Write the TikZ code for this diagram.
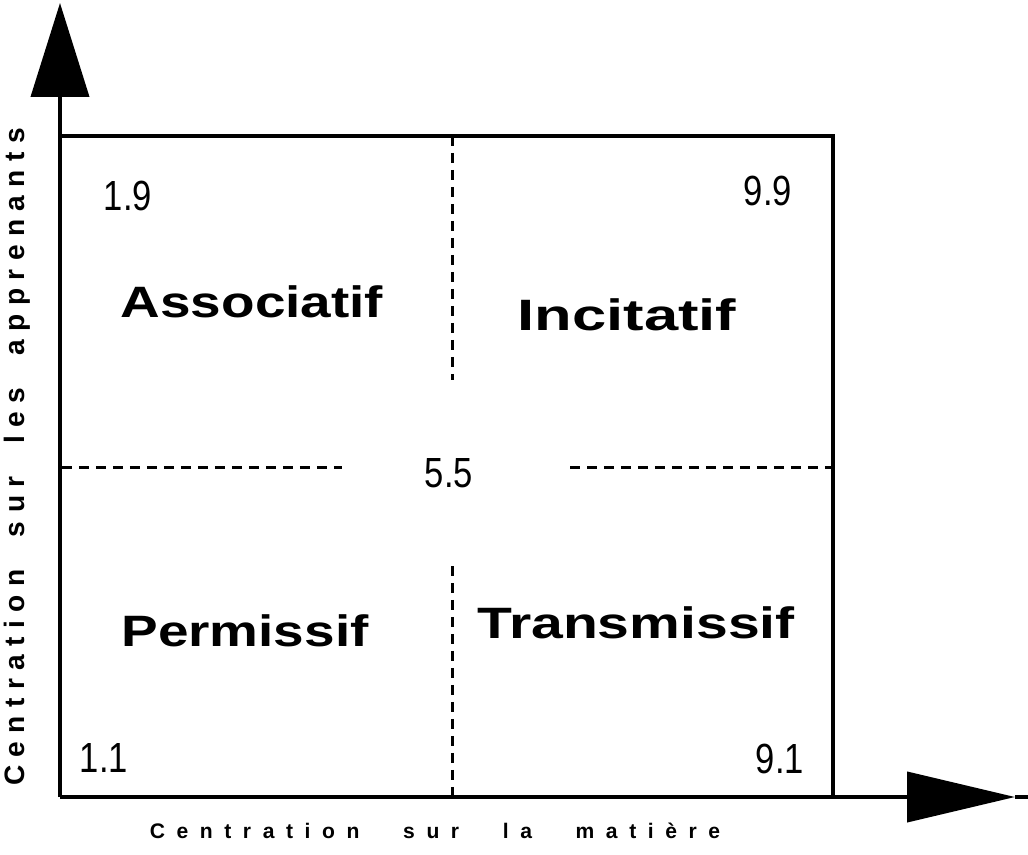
\documentclass[tikz,border=0pt]{standalone}
\usepackage{fontspec}
\setmainfont{Liberation Sans}
\newfontfamily\axisfont[LetterSpace=55,WordSpace=2.5]{Liberation Sans}
\newfontfamily\yaxisfont[LetterSpace=30,WordSpace=2]{Liberation Sans}
\usepackage{tikz}
\usetikzlibrary{arrows.meta}

\tikzset{
	axe/.style={line width=0.08cm},
	mid/.style={line width=0.06cm,dash pattern=on 0.2cm off 0.14cm},
	num/.style={anchor=base,xscale=.82,font=\fontsize{24}{28}\selectfont},
	quad/.style={anchor=base,xscale=1.25,font=\fontsize{25}{30}\selectfont\bfseries},
}

\begin{document}
\begin{tikzpicture}[x=0.02cm,y=-0.02cm]
			%	\draw[very thin,gray] (0,0) grid[step=50] (1028,855);
			\useasboundingbox (0,0) rectangle (1028,855);
			\coordinate (O) at (60,797);
			\coordinate (ytip) at (60,3);
			\coordinate (xtip) at (1015,797);
			\coordinate (xend) at (1028,797);
			\coordinate (TL) at (60,136);
			\coordinate (TR) at (833,136);
			\coordinate (BR) at (833,797);
			\coordinate (vtop) at (452,136);
			\coordinate (vtopend) at (452,380);
			\coordinate (vbot) at (452,566);
			\coordinate (vbotend) at (452,797);
			\coordinate (hleft) at (62,467);
			\coordinate (hleftend) at (342,467);
			\coordinate (hright) at (570,467);
			\coordinate (hrightend) at (833,467);
			\node [num](nw) at (128,210){1.9};
			\node [num](ne) at (768,205){9.9};
			\node [num](sw) at (104,772){1.1};
			\node [num](se) at (780,773){9.1};
			\node [num](c) at (449,487){5.5};
			\node [quad](A) at (252,317){Associatif};
			\node [quad,xscale=1.12](I) at (627,330){Incitatif};
			\node [quad](P) at (245,646){Permissif};
			\node [quad,xscale=1.04](T) at (636,638){Transmissif};
			\node [anchor=base](xl) at (435,838){\axisfont\bfseries\fontsize{12}{14}\selectfont Centration sur la matière};
			\node [anchor=base,rotate=90](yl) at (25,457){\yaxisfont\bfseries\fontsize{16}{18}\selectfont Centration sur les apprenants};
			\draw[axe,-{Triangle[length=1.88cm,width=1.16cm]}] (O) -- (ytip);
			\draw[axe,-{Triangle[length=2.16cm,width=1.0cm]}] (O) -- (xtip);
			\draw[axe] (xtip) -- (xend);
			\draw[axe] (TL) -- (TR) -- (BR);
			\draw[mid] (vtop) -- (vtopend)
			(vbot) -- (vbotend)
			(hleft) -- (hleftend)
			(hright) -- (hrightend);
		\end{tikzpicture}
\end{document}
